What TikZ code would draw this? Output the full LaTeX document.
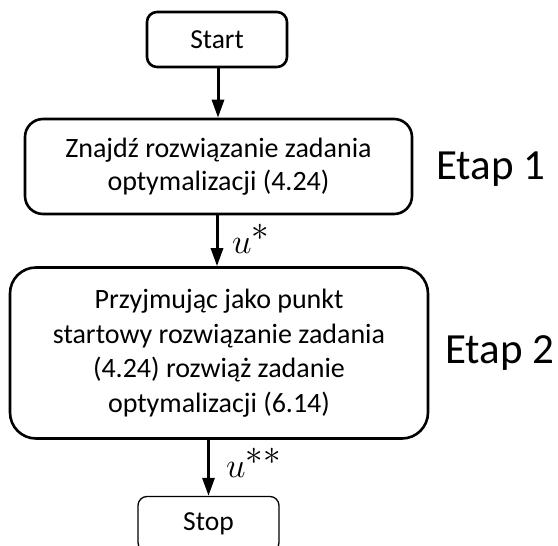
\RequirePackage{fix-cm}
\documentclass[tikz,border=0pt]{standalone}
\usepackage{fontspec}
\setmainfont{Carlito}
\usetikzlibrary{arrows.meta}
\begin{document}
\begin{tikzpicture}[x=1pt,y=-1pt,
  boxstyle/.style={draw, line width=2.6pt, align=center, inner sep=0pt, font=\fontsize{28}{33}\selectfont},
  thinbox/.style={draw, line width=1.3pt, align=center, inner sep=0pt, rounded corners=9pt, font=\fontsize{27.5}{30}\selectfont},
  flow/.style={line width=3pt, -{Triangle[width=12pt,length=18pt]}},
  etap/.style={anchor=base west, inner sep=0pt, font=\fontsize{43}{45}\selectfont},
  ulabel/.style={anchor=base west, inner sep=0pt, font=\fontsize{35}{35}\selectfont}]
\useasboundingbox (0,0) rectangle (558,546);
\clip (0,0) rectangle (558,546);
\node[boxstyle, rounded corners=10pt, minimum width=140pt, minimum height=55pt, font=\fontsize{27.5}{30}\selectfont] (start) at (217,39.5) {Start};
\node[boxstyle, rounded corners=18pt, minimum width=387pt, minimum height=95pt] (b1) at (218.5,166.5) {Znajdź rozwiązanie zadania\\optymalizacji (4.24)};
\node[boxstyle, rounded corners=26pt, minimum width=418pt, minimum height=171pt, font=\fontsize{28}{34.5}\selectfont] (b2) at (219,353) {Przyjmując jako punkt\\startowy rozwiązanie zadania\\(4.24) rozwiąż zadanie\\optymalizacji (6.14)};
\node[thinbox, minimum width=141pt, minimum height=55pt] (stop) at (208.5,524) {Stop};
\node[etap] (e1) at (436,179) {Etap 1};
\node[etap] (e2) at (445,363) {Etap 2};
\draw[flow] (start.south -| 218,0) -- (b1.north -| 218,0);
\draw[flow] (b1.south -| 217,0) -- (b2.north -| 217,0);
\draw[flow] (b2.south -| stop.north) -- (stop.north);
\node[ulabel] (u1) at (232,253) {$u^{\textstyle *}$};
\node[ulabel] (u2) at (226,477) {$u^{\textstyle **}$};
\end{tikzpicture}
\end{document}
